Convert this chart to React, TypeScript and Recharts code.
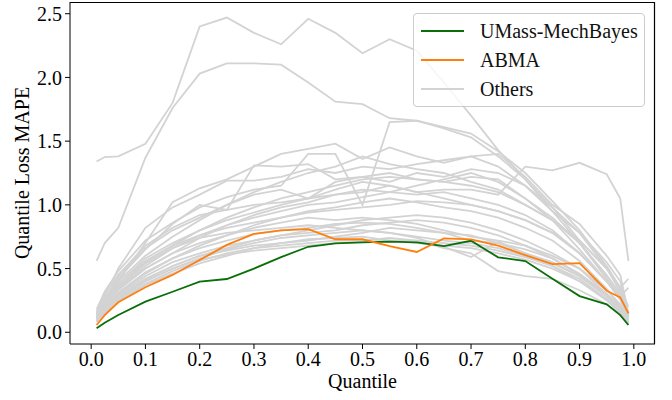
import { LineChart, Line, XAxis, YAxis } from "recharts";

// quantile levels on the x axis
const QUANTILES = [
  0.01, 0.025, 0.05, 0.1, 0.15, 0.2, 0.25, 0.3, 0.35, 0.4, 0.45, 0.5,
  0.55, 0.6, 0.65, 0.7, 0.75, 0.8, 0.85, 0.9, 0.95, 0.975, 0.99,
];

const X_TICKS = [0, 0.1, 0.2, 0.3, 0.4, 0.5, 0.6, 0.7, 0.8, 0.9, 1.0];
const Y_TICKS = [0, 0.5, 1.0, 1.5, 2.0, 2.5];

const UMASS = [
  0.031, 0.075, 0.136, 0.24, 0.318, 0.397, 0.418, 0.5, 0.59, 0.671, 0.697, 0.705,
  0.712, 0.706, 0.676, 0.718, 0.588, 0.559, 0.42, 0.284, 0.219, 0.135, 0.057,
];

const ABMA = [
  0.057, 0.135, 0.235, 0.353, 0.45, 0.567, 0.686, 0.772, 0.8, 0.81, 0.73, 0.73,
  0.676, 0.63, 0.737, 0.729, 0.68, 0.606, 0.535, 0.543, 0.326, 0.274, 0.149,
];

// the remaining models, all drawn in light gray
const OTHER_A = [1.34, 1.375, 1.38, 1.48, 1.8, 2.4, 2.47, 2.35, 2.26, 2.46, 2.35, 2.19, 2.3, 2.21, 1.96, 1.7, 1.43, 1.2, 0.95, 0.7, 0.42, 0.28, 0.14];
const OTHER_B = [0.56, 0.7, 0.82, 1.37, 1.76, 2.03, 2.11, 2.11, 2.1, 1.96, 1.81, 1.79, 1.68, 1.66, 1.61, 1.56, 1.42, 1.25, 1.03, 0.8, 0.52, 0.35, 0.2];
const OTHER_C = [0.18, 0.32, 0.48, 0.72, 0.86, 0.98, 1.06, 1.12, 1.15, 1.4, 1.4, 1.0, 1.65, 1.66, 1.6, 1.53, 1.38, 1.2, 0.98, 0.72, 0.5, 0.32, 0.13];
const OTHER_D = [0.12, 0.22, 0.4, 0.7, 1.02, 1.13, 1.2, 1.3, 1.4, 1.44, 1.48, 1.36, 1.45, 1.38, 1.33, 1.38, 1.4, 1.22, 1.0, 0.85, 0.6, 0.45, 0.15];
const OTHER_E = [0.16, 0.3, 0.45, 0.68, 0.82, 0.92, 0.96, 1.0, 1.02, 1.05, 1.08, 1.1, 1.15, 1.1, 1.12, 1.12, 1.08, 1.3, 1.27, 1.33, 1.24, 1.05, 0.56];
const OTHER_F = [0.15, 0.28, 0.5, 0.82, 0.98, 1.08, 1.19, 1.19, 1.22, 1.28, 1.25, 1.3, 1.28, 1.32, 1.35, 1.38, 1.3, 1.15, 0.95, 0.78, 0.55, 0.4, 0.14];
const OTHER_G = [0.14, 0.25, 0.42, 0.65, 0.85, 1.0, 0.96, 1.31, 1.3, 1.32, 1.2, 1.22, 1.25, 1.2, 1.18, 1.22, 1.2, 1.05, 0.88, 0.65, 0.4, 0.26, 0.12];
const OTHER_H = [0.13, 0.24, 0.4, 0.6, 0.75, 0.88, 1.0, 1.1, 1.18, 1.25, 1.3, 1.38, 1.32, 1.28, 1.25, 1.18, 1.12, 1.0, 0.88, 0.72, 0.5, 0.34, 0.11];
const OTHER_I = [0.14, 0.26, 0.44, 0.66, 0.8, 0.9, 1.0, 1.08, 1.12, 1.05, 1.18, 1.22, 1.18, 1.25, 1.22, 1.28, 1.25, 1.15, 0.98, 0.78, 0.5, 0.35, 0.42];
const OTHER_J = [0.12, 0.22, 0.36, 0.55, 0.68, 0.8, 0.9, 0.98, 1.05, 1.1, 1.15, 1.2, 1.22, 1.2, 1.18, 1.15, 1.1, 1.0, 0.88, 0.7, 0.45, 0.3, 0.14];
const OTHER_K = [0.1, 0.2, 0.33, 0.5, 0.62, 0.74, 0.84, 0.92, 0.98, 1.02, 1.08, 1.12, 1.1, 1.08, 1.1, 1.05, 1.0, 0.92, 0.8, 0.62, 0.4, 0.26, 0.1];
const OTHER_L = [0.11, 0.22, 0.35, 0.52, 0.66, 0.76, 0.84, 0.9, 0.95, 1.0, 1.02, 1.06, 1.1, 1.15, 1.2, 1.25, 1.18, 1.05, 0.9, 0.7, 0.44, 0.3, 0.12];
const OTHER_M = [0.13, 0.24, 0.38, 0.58, 0.7, 0.8, 0.88, 0.94, 1.0, 1.05, 1.12, 1.18, 1.15, 1.1, 1.05, 1.0, 0.95, 0.88, 0.78, 0.62, 0.4, 0.26, 0.11];
const OTHER_N = [0.14, 0.24, 0.38, 0.56, 0.68, 0.76, 0.82, 0.86, 0.9, 0.94, 0.96, 0.98, 1.0, 1.03, 1.02, 1.0, 0.95, 0.88, 0.78, 0.62, 0.4, 0.28, 0.35];
const OTHER_O = [0.1, 0.18, 0.3, 0.46, 0.58, 0.68, 0.76, 0.84, 0.9, 0.95, 0.98, 1.02, 1.05, 1.02, 0.98, 0.95, 0.9, 0.82, 0.72, 0.56, 0.34, 0.2, 0.08];
const OTHER_P = [0.12, 0.21, 0.34, 0.5, 0.62, 0.7, 0.76, 0.82, 0.86, 0.9, 0.88, 0.9, 0.88, 0.85, 0.8, 0.75, 0.72, 0.68, 0.6, 0.5, 0.33, 0.22, 0.1];
const OTHER_Q = [0.11, 0.19, 0.31, 0.47, 0.58, 0.66, 0.72, 0.77, 0.8, 0.82, 0.85, 0.86, 0.85, 0.82, 0.78, 0.72, 0.7, 0.65, 0.58, 0.45, 0.28, 0.18, 0.08];
const OTHER_R = [0.13, 0.23, 0.36, 0.54, 0.66, 0.74, 0.78, 0.8, 0.82, 0.84, 0.82, 0.8, 0.78, 0.74, 0.67, 0.59, 0.71, 0.62, 0.55, 0.44, 0.3, 0.2, 0.09];
const OTHER_S = [0.1, 0.18, 0.28, 0.42, 0.52, 0.6, 0.66, 0.72, 0.76, 0.8, 0.84, 0.88, 0.9, 0.92, 0.9, 0.86, 0.8, 0.72, 0.62, 0.5, 0.3, 0.18, 0.08];
const OTHER_T = [0.09, 0.16, 0.26, 0.4, 0.5, 0.58, 0.65, 0.7, 0.74, 0.76, 0.78, 0.8, 0.78, 0.75, 0.72, 0.7, 0.66, 0.6, 0.52, 0.42, 0.26, 0.16, 0.07];
const OTHER_U = [0.08, 0.15, 0.24, 0.37, 0.46, 0.54, 0.6, 0.66, 0.7, 0.73, 0.74, 0.75, 0.72, 0.7, 0.68, 0.66, 0.62, 0.57, 0.5, 0.4, 0.25, 0.15, 0.06];
const OTHER_V = [0.1, 0.17, 0.27, 0.41, 0.52, 0.6, 0.64, 0.68, 0.7, 0.72, 0.75, 0.78, 0.82, 0.8, 0.78, 0.76, 0.7, 0.62, 0.54, 0.44, 0.28, 0.18, 0.07];
const OTHER_W = [0.09, 0.16, 0.25, 0.38, 0.48, 0.56, 0.62, 0.66, 0.68, 0.7, 0.72, 0.72, 0.74, 0.72, 0.66, 0.62, 0.48, 0.44, 0.42, 0.33, 0.22, 0.14, 0.06];
const OTHER_X = [0.11, 0.18, 0.29, 0.44, 0.55, 0.62, 0.68, 0.72, 0.76, 0.78, 0.8, 0.84, 0.86, 0.88, 0.86, 0.82, 0.76, 0.68, 0.58, 0.46, 0.3, 0.19, 0.08];
const OTHER_Y = [0.1, 0.17, 0.26, 0.4, 0.5, 0.57, 0.61, 0.64, 0.66, 0.68, 0.7, 0.71, 0.72, 0.72, 0.7, 0.68, 0.64, 0.59, 0.52, 0.4, 0.26, 0.16, 0.06];

const OTHERS = [
  OTHER_A, OTHER_B, OTHER_C, OTHER_D, OTHER_E, OTHER_F, OTHER_G, OTHER_H,
  OTHER_I, OTHER_J, OTHER_K, OTHER_L, OTHER_M, OTHER_N, OTHER_O, OTHER_P,
  OTHER_Q, OTHER_R, OTHER_S, OTHER_T, OTHER_U, OTHER_V, OTHER_W, OTHER_X, OTHER_Y,
];

const X_DOMAIN = [-0.039, 1.039];
const Y_DOMAIN = [-0.092, 2.592];

const GREEN = "#0a6e0a";
const ORANGE = "#ff7f0e";
const GRAY = "#d3d3d3";
const FONT = '"Liberation Serif", "Times New Roman", serif';

// plot box (matches the chart margins + axis sizes below)
const MARGIN = { top: 2, right: 17, left: 10, bottom: 11 };
const Y_AXIS_W = 60;
const X_AXIS_H = 45;

const data = QUANTILES.map((q, i) => {
  const row: Record<string, number> = { q, umass: UMASS[i], abma: ABMA[i] };
  OTHERS.forEach((s, j) => {
    row[`other${j}`] = s[i];
  });
  return row;
});

const tickStyle = { fontSize: 20, fill: "#000", fontFamily: FONT };

function LegendBox() {
  const items = [
    { label: "UMass-MechBayes", color: GREEN },
    { label: "ABMA", color: ORANGE },
    { label: "Others", color: GRAY },
  ];
  return (
    <div
      style={{
        position: "absolute",
        left: 413,
        top: 13,
        width: 230,
        height: 92,
        border: "1px solid #cccccc",
        borderRadius: 4,
        background: "rgba(255,255,255,0.8)",
        fontFamily: FONT,
        fontSize: 20,
        zIndex: 3,
      }}
    >
      {items.map((it, i) => (
        <div
          key={it.label}
          style={{
            position: "absolute",
            left: 7,
            top: 4 + i * 29,
            height: 26,
            display: "flex",
            alignItems: "center",
          }}
        >
          <span
            style={{
              display: "inline-block",
              width: 43,
              height: 0,
              borderTop: `2px solid ${it.color}`,
              marginRight: 16,
            }}
          />
          <span style={{ color: "#111" }}>{it.label}</span>
        </div>
      ))}
    </div>
  );
}

export default function App() {
  const W = 672;
  const H = 400;
  const boxLeft = MARGIN.left + Y_AXIS_W;
  const boxTop = MARGIN.top;
  const boxW = W - MARGIN.left - Y_AXIS_W - MARGIN.right;
  const boxH = H - MARGIN.top - MARGIN.bottom - X_AXIS_H;
  return (
    <div style={{ position: "relative", width: W, height: H, fontFamily: FONT }}>
      <style>{"body{margin:0}"}</style>
      <LineChart width={W} height={H} data={data} margin={MARGIN}>
        <XAxis
          dataKey="q"
          type="number"
          domain={X_DOMAIN}
          allowDataOverflow
          ticks={X_TICKS}
          tickFormatter={(v: number) => v.toFixed(1)}
          tick={tickStyle}
          tickSize={5}
          tickMargin={3}
          height={X_AXIS_H}
          stroke="#000"
          label={{ value: "Quantile", position: "insideBottom", offset: 1, fill: "#000", fontSize: 20, fontFamily: FONT }}
        />
        <YAxis
          type="number"
          domain={Y_DOMAIN}
          allowDataOverflow
          ticks={Y_TICKS}
          tickFormatter={(v: number) => v.toFixed(1)}
          tick={tickStyle}
          tickSize={5}
          tickMargin={3}
          width={Y_AXIS_W}
          stroke="#000"
          label={{ value: "Quantile Loss MAPE", angle: -90, position: "center", dx: -18, fill: "#000", fontSize: 20, fontFamily: FONT }}
        />
        {OTHERS.map((_, j) => (
          <Line
            key={j}
            dataKey={`other${j}`}
            type="linear"
            stroke={GRAY}
            strokeWidth={1.8}
            dot={false}
            isAnimationActive={false}
          />
        ))}
        <Line dataKey="umass" type="linear" stroke={GREEN} strokeWidth={1.8} dot={false} isAnimationActive={false} />
        <Line dataKey="abma" type="linear" stroke={ORANGE} strokeWidth={1.8} dot={false} isAnimationActive={false} />
      </LineChart>
      {/* top and right spines of the axes box, drawn as an svg overlay */}
      <svg
        width={W}
        height={H}
        style={{ position: "absolute", left: 0, top: 0, pointerEvents: "none", zIndex: 2 }}
      >
        <polyline
          points={`${boxLeft},${boxTop + 0.5} ${boxLeft + boxW - 0.5},${boxTop + 0.5} ${boxLeft + boxW - 0.5},${boxTop + boxH}`}
          fill="none"
          stroke="#000"
          strokeWidth={1.2}
        />
      </svg>
      <LegendBox />
    </div>
  );
}
